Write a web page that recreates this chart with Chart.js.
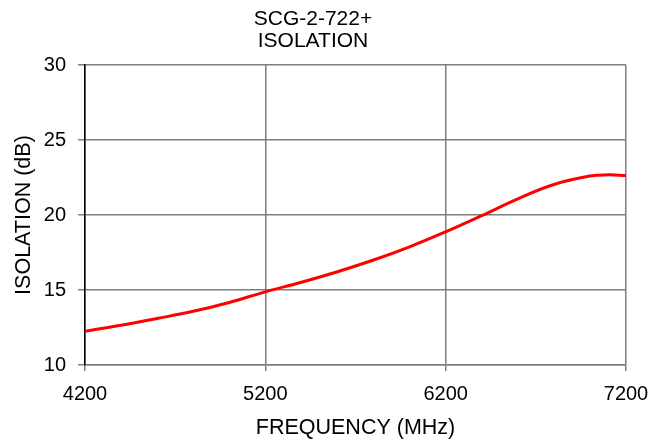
<!DOCTYPE html>
<html>
<head>
<meta charset="utf-8">
<script src="https://cdn.jsdelivr.net/npm/chart.js@4/dist/chart.umd.min.js"></script>
<style>
  html, body { margin: 0; padding: 0; background: #fff; }
  #wrap { width: 665px; height: 441px; }
</style>
</head>
<body>
<div id="wrap"><canvas id="chart" width="665" height="441"></canvas></div>
<script>
// values
const freqs = [4200, 4400, 4600, 4800, 5000, 5200, 5400, 5600, 5800, 6000, 6200, 6400, 6600, 6800, 7000, 7100, 7200];
const isolation = [12.25, 12.65, 13.1, 13.58, 14.17, 14.88, 15.52, 16.22, 17.0, 17.88, 18.88, 19.96, 21.08, 22.04, 22.6, 22.68, 22.64];
const xTicks = [4200, 5200, 6200, 7200];
const yTicks = [10, 15, 20, 25, 30];

const fontFamily = '"Liberation Sans", Arial, sans-serif';
const gridGray = '#7f7f7f';

const ctx = document.getElementById('chart').getContext('2d');

const chart = new Chart(ctx, {
    type: 'line',
    data: {
        datasets: [{
            data: freqs.map((f, i) => ({ x: f, y: isolation[i] })),
            borderColor: '#ff0000',
            borderWidth: 3,
            pointRadius: 0,
            tension: 0.4,
            fill: false
        }]
    },
    options: {
        responsive: false,
        animation: false,
        layout: { padding: { left: 0, right: 39, top: 0, bottom: 0 } },
        plugins: {
            legend: { display: false },
            tooltip: { enabled: false },
            title: {
                display: true,
                text: ['SCG-2-722+', 'ISOLATION'],
                color: '#000',
                font: { family: fontFamily, size: 21, weight: 'normal', lineHeight: 1.05 },
                padding: { top: 8, bottom: 13 }
            }
        },
        scales: {
            x: {
                type: 'linear',
                min: 4200,
                max: 7200,
                afterBuildTicks: (scale) => { scale.ticks = xTicks.map(v => ({ value: v })); },
                afterFit: (scale) => { scale.height = 76; },
                ticks: {
                    color: '#000',
                    font: { family: fontFamily, size: 20 },
                    padding: 11,
                    maxRotation: 0,
                    callback: (v) => String(v)
                },
                grid: { color: gridGray, lineWidth: 1.5, tickLength: 6 },
                border: { color: gridGray, width: 1.5 },
                title: {
                    display: true,
                    text: 'FREQUENCY (MHz)',
                    color: '#000',
                    font: { family: fontFamily, size: 21.5 },
                    padding: { top: 0, bottom: 0 }
                }
            },
            y: {
                min: 10,
                max: 30,
                afterBuildTicks: (scale) => { scale.ticks = yTicks.map(v => ({ value: v })); },
                afterFit: (scale) => { scale.width = 85; },
                ticks: {
                    color: '#000',
                    font: { family: fontFamily, size: 20 },
                    padding: 12
                },
                grid: { color: gridGray, lineWidth: 1.5, tickLength: 7 },
                border: { color: '#000', width: 1.5 },
                title: {
                    display: true,
                    text: 'ISOLATION (dB)',
                    color: '#000',
                    font: { family: fontFamily, size: 21.5 },
                    padding: { top: 11, bottom: 0 }
                }
            }
        }
    }
});
</script>
</body>
</html>
